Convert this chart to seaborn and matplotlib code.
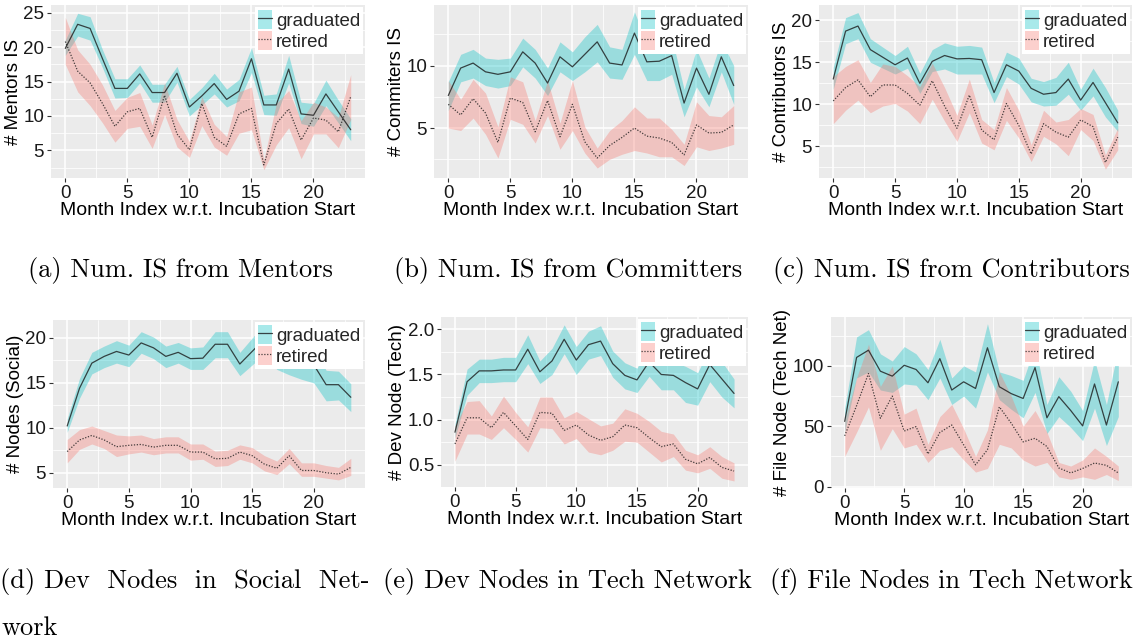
import numpy as np
import pandas as pd
import matplotlib
matplotlib.use("Agg")
import matplotlib.pyplot as plt
from matplotlib.patches import Patch
from matplotlib.lines import Line2D
from matplotlib.ticker import MultipleLocator, FormatStrFormatter
import seaborn as sns

# ---------------------------------------------------------------- data
months = list(range(24))

mentors_grad = [19.8, 23.3, 22.7, 18.3, 14.0, 14.0, 16.1, 13.4, 13.4, 16.2, 11.3, 12.9,
                14.7, 12.4, 13.6, 18.3, 11.6, 11.6, 16.8, 10.3, 10.1, 13.2, 10.6, 8.0]
mentors_grad_lo = [18.8, 21.6, 21.0, 17.0, 12.6, 12.7, 14.8, 12.0, 12.0, 14.9, 10.0, 11.6,
                   13.2, 11.3, 12.2, 16.3, 10.2, 10.1, 14.8, 8.9, 8.5, 11.5, 9.0, 6.4]
mentors_grad_hi = [21.0, 24.9, 24.4, 19.6, 15.4, 15.4, 17.4, 14.6, 14.6, 17.2, 12.4, 14.1,
                   16.2, 13.9, 15.3, 19.9, 13.0, 13.2, 18.8, 12.0, 11.8, 15.2, 12.3, 9.6]
mentors_ret = [20.8, 16.5, 14.8, 11.8, 8.5, 10.6, 11.1, 6.9, 13.0, 7.4, 5.1, 11.8,
               6.9, 5.6, 10.3, 11.1, 2.9, 8.9, 11.0, 6.5, 9.7, 9.4, 7.7, 12.8]
mentors_ret_lo = [17.5, 13.5, 11.5, 9.0, 6.2, 8.2, 8.5, 5.3, 10.2, 5.5, 4.0, 8.6,
                  5.5, 4.3, 7.5, 8.0, 2.2, 5.8, 8.3, 3.8, 7.4, 7.4, 5.4, 9.5]
mentors_ret_hi = [24.3, 19.6, 17.5, 14.5, 10.8, 12.7, 13.4, 8.7, 14.8, 9.5, 6.3, 12.8,
                  8.8, 7.0, 13.5, 14.2, 3.6, 11.8, 13.7, 9.3, 12.0, 11.3, 9.8, 16.0]

committers_grad = [7.6, 9.8, 10.2, 9.5, 9.3, 9.5, 11.1, 10.2, 8.6, 10.7, 9.9, 10.9,
                   11.9, 10.2, 10.05, 12.6, 10.3, 10.35, 10.8, 7.0, 9.8, 7.7, 10.7, 8.4]
committers_grad_lo = [6.4, 8.7, 9.0, 8.4, 8.2, 8.4, 9.9, 9.0, 7.6, 9.5, 8.8, 9.5,
                      10.3, 9.0, 8.9, 10.9, 8.8, 8.8, 9.3, 5.9, 8.3, 6.7, 9.5, 6.9]
committers_grad_hi = [8.7, 10.9, 11.3, 10.6, 10.5, 10.6, 12.2, 11.3, 9.8, 11.9, 11.1, 12.3,
                      13.3, 11.5, 11.3, 14.3, 11.8, 11.9, 12.3, 8.1, 11.3, 9.0, 12.0, 10.0]
committers_ret = [6.9, 6.05, 7.35, 6.2, 3.85, 7.4, 7.05, 4.7, 7.2, 4.3, 6.9, 3.9,
                  2.6, 3.6, 4.25, 5.0, 4.35, 4.2, 3.85, 2.85, 5.25, 4.6, 4.65, 5.25]
committers_ret_lo = [5.0, 4.8, 5.8, 4.5, 2.6, 5.7, 5.3, 3.8, 6.0, 3.3, 4.8, 3.0,
                     1.8, 2.5, 2.9, 3.2, 3.0, 2.7, 2.7, 2.0, 3.5, 3.2, 3.4, 3.7]
committers_ret_hi = [8.8, 7.3, 8.9, 7.8, 5.1, 9.1, 8.7, 5.6, 8.8, 5.4, 8.8, 5.1,
                     3.4, 4.8, 5.6, 6.7, 5.8, 5.8, 4.9, 3.7, 7.1, 6.0, 5.9, 6.8]

contrib_grad = [13.0, 18.7, 19.3, 16.5, 15.6, 14.7, 15.5, 12.5, 15.1, 15.8, 15.4, 15.45,
                15.3, 11.4, 14.7, 13.95, 11.9, 11.2, 11.4, 13.0, 10.5, 12.6, 10.2, 7.8]
contrib_grad_lo = [11.8, 17.2, 17.8, 15.0, 14.3, 13.6, 14.3, 11.3, 13.9, 14.2, 13.6, 13.6,
                   13.6, 10.2, 13.3, 12.4, 10.3, 9.8, 9.9, 11.2, 9.3, 11.0, 8.5, 6.8]
contrib_grad_hi = [14.4, 20.3, 20.9, 17.8, 16.8, 15.8, 16.9, 13.7, 16.5, 17.3, 16.9, 17.0,
                   16.8, 12.6, 16.2, 15.5, 13.1, 12.7, 13.2, 15.0, 11.8, 14.3, 12.0, 9.3]
contrib_ret = [10.4, 12.0, 12.9, 10.9, 12.3, 12.3, 11.3, 9.9, 12.8, 9.8, 7.15, 11.1,
               6.95, 5.8, 10.1, 7.5, 4.1, 7.7, 6.7, 6.1, 8.15, 7.35, 3.1, 6.1]
contrib_ret_lo = [7.7, 9.3, 10.5, 9.0, 9.8, 10.1, 9.2, 7.7, 10.6, 8.0, 5.6, 9.0,
                  5.4, 4.6, 8.1, 6.0, 3.2, 6.2, 5.3, 3.9, 7.0, 5.7, 2.3, 4.6]
contrib_ret_hi = [13.3, 14.5, 15.3, 12.6, 14.8, 14.5, 13.4, 12.1, 14.9, 12.0, 8.7, 13.0,
                  8.2, 7.0, 12.0, 9.3, 5.2, 9.3, 7.9, 8.2, 9.5, 8.8, 4.0, 7.2]

social_grad = [10.2, 14.4, 17.2, 17.95, 18.5, 18.1, 19.45, 18.9, 17.95, 18.4, 17.7, 17.75,
               19.3, 19.3, 17.1, 18.5, 19.9, 18.5, 18.0, 17.5, 17.0, 14.8, 14.8, 13.4]
social_grad_lo = [9.5, 13.3, 16.0, 16.7, 17.2, 16.8, 18.3, 17.7, 16.7, 17.2, 16.5, 16.5,
                  17.8, 17.8, 15.8, 17.0, 18.2, 16.5, 15.9, 15.4, 15.0, 13.0, 13.1, 11.8]
social_grad_hi = [11.0, 15.5, 18.4, 19.1, 19.7, 19.2, 20.7, 20.1, 19.1, 19.5, 18.9, 19.0,
                  20.7, 20.7, 18.4, 20.0, 21.6, 20.5, 20.0, 19.5, 19.0, 16.4, 16.3, 14.9]
social_ret = [7.35, 8.65, 9.15, 8.65, 7.9, 8.05, 8.15, 7.85, 8.05, 8.05, 7.3, 7.3,
              6.55, 6.6, 7.3, 6.9, 5.95, 5.5, 6.9, 5.25, 5.25, 5.0, 4.85, 5.6]
social_ret_lo = [6.1, 7.6, 8.2, 7.7, 6.8, 7.1, 7.3, 7.0, 7.2, 7.2, 6.4, 6.5,
                 5.7, 5.8, 6.5, 6.1, 5.2, 4.8, 6.0, 4.6, 4.6, 4.4, 4.2, 4.7]
social_ret_hi = [8.7, 9.8, 10.2, 9.7, 9.2, 9.1, 9.2, 8.8, 9.0, 9.0, 8.2, 8.2,
                 7.4, 7.5, 8.1, 7.8, 6.9, 6.3, 7.7, 6.1, 6.1, 5.8, 5.6, 6.6]

devtech_grad = [0.86, 1.42, 1.54, 1.54, 1.55, 1.55, 1.78, 1.53, 1.65, 1.89, 1.66, 1.83,
                1.87, 1.62, 1.49, 1.44, 1.64, 1.50, 1.49, 1.41, 1.34, 1.61, 1.45, 1.29]
devtech_grad_lo = [0.80, 1.27, 1.41, 1.41, 1.42, 1.42, 1.62, 1.40, 1.50, 1.73, 1.50, 1.67,
                   1.71, 1.47, 1.34, 1.30, 1.48, 1.33, 1.33, 1.19, 1.16, 1.42, 1.25, 1.13]
devtech_grad_hi = [0.95, 1.56, 1.67, 1.67, 1.69, 1.69, 1.94, 1.65, 1.79, 2.05, 1.81, 1.98,
                   2.04, 1.76, 1.63, 1.57, 1.81, 1.66, 1.64, 1.59, 1.52, 1.80, 1.64, 1.45]
devtech_ret = [0.73, 1.02, 1.02, 0.91, 1.08, 0.93, 0.78, 1.08, 1.07, 0.88, 0.94, 0.83,
               0.77, 0.81, 0.94, 0.91, 0.80, 0.70, 0.73, 0.56, 0.51, 0.58, 0.47, 0.43]
devtech_ret_lo = [0.54, 0.84, 0.84, 0.78, 0.91, 0.78, 0.64, 0.91, 0.90, 0.73, 0.79, 0.64,
                  0.61, 0.66, 0.76, 0.75, 0.64, 0.53, 0.59, 0.44, 0.41, 0.46, 0.35, 0.32]
devtech_ret_hi = [0.93, 1.20, 1.21, 1.04, 1.26, 1.08, 0.92, 1.25, 1.25, 1.02, 1.09, 1.01,
                  0.93, 0.96, 1.12, 1.07, 0.98, 0.87, 0.84, 0.66, 0.61, 0.70, 0.59, 0.52]

files_grad = [54, 107, 113, 95.6, 91.5, 100.5, 97, 86, 106, 80, 86.8, 81.3,
              115, 82.7, 77, 73, 98.6, 57, 74.5, 63, 50.3, 85, 51, 86.8]
files_grad_lo = [45, 90, 95, 80, 78, 85, 84, 72, 90, 68, 75, 65,
                 95, 72, 64, 57, 78, 44, 58, 49, 38, 65, 34, 58]
files_grad_hi = [65, 124, 130, 110, 104, 116, 110, 97, 122, 90, 100, 95,
                 135, 95, 92, 88, 117, 68, 91, 79, 63, 105, 68, 115]
files_ret = [42, 67, 93.7, 56.6, 75, 46, 49.7, 27, 44.8, 51, 34.6, 18,
             30.5, 66, 52.5, 37, 40, 33.2, 15.4, 11.3, 15, 19.5, 17.6, 11.3]
files_ret_lo = [25, 45, 66, 30, 48, 32, 35, 20, 30, 33, 22, 12,
                15, 35, 32, 22, 17, 20, 8, 6, 8, 6, 10, 5]
files_ret_hi = [55, 90, 118, 83, 100, 60, 65, 35, 58, 68, 48, 25,
                47, 95, 75, 50, 63, 45, 20, 17, 22, 32, 25, 17]

x_label = "Month Index w.r.t. Incubation Start"
group_names = ["graduated", "retired"]
y_labels = ["# Mentors IS", "# Commiters IS", "# Contributors IS",
            "# Nodes (Social)", "# Dev Node (Tech)", "# File Node (Tech Net)"]
captions = ["(a) Num. IS from Mentors", "(b) Num. IS from Committers",
            "(c) Num. IS from Contributors", "(d) Dev  Nodes  in  Social  Net-",
            "(e) Dev Nodes in Tech Network", "(f) File Nodes in Tech Network"]
caption_wrap = "work"

# ---------------------------------------------------------------- style
sns.set_theme(style="darkgrid", rc={
    "axes.facecolor": "#EBEBEB",
    "figure.facecolor": "white",
    "grid.color": "white",
    "axes.edgecolor": "none",
    "xtick.bottom": True,
    "ytick.left": True,
    "xtick.color": "#333333",
    "ytick.color": "#333333",
    "xtick.major.size": 3,
    "ytick.major.size": 3,
    "xtick.major.width": 0.8,
    "ytick.major.width": 0.8,
    "xtick.major.pad": 2,
    "ytick.major.pad": 2,
})
plt.rcParams["font.family"] = ["Liberation Sans", "DejaVu Sans"]

GRAD = "#00BFC4"
RET = "#F8766D"
LINE = "#1a1a1a"
BAND_ALPHA = 0.34

panels = [
    (mentors_grad, mentors_grad_lo, mentors_grad_hi, mentors_ret, mentors_ret_lo, mentors_ret_hi,
     (1.0, 26.1), 5, 2.5),
    (committers_grad, committers_grad_lo, committers_grad_hi, committers_ret, committers_ret_lo,
     committers_ret_hi, (1.0, 14.85), 5, 2.5),
    (contrib_grad, contrib_grad_lo, contrib_grad_hi, contrib_ret, contrib_ret_lo, contrib_ret_hi,
     (1.25, 21.8), 5, 2.5),
    (social_grad, social_grad_lo, social_grad_hi, social_ret, social_ret_lo, social_ret_hi,
     (3.3, 22.0), 5, 2.5),
    (devtech_grad, devtech_grad_lo, devtech_grad_hi, devtech_ret, devtech_ret_lo, devtech_ret_hi,
     (0.253, 2.137), 0.5, 0.25),
    (files_grad, files_grad_lo, files_grad_hi, files_ret, files_ret_lo, files_ret_hi,
     (-1.2, 140.5), 50, 25),
]

# plot-area boxes in pixels: left, top, right, bottom
boxes = [(51, 5, 365, 178), (434, 5, 748, 178), (819, 5, 1132, 178),
         (53, 320, 365, 488), (441, 317, 748, 487), (831, 317, 1132, 488)]

W, H = 1141, 643
fig = plt.figure(figsize=(W / 100, H / 100), dpi=100)

for i, (gm, gl, gh, rm, rl, rh, ylim, major, minor) in enumerate(panels):
    l, t, r, b = boxes[i]
    ax = fig.add_axes([l / W, 1 - b / H, (r - l) / W, (b - t) / H])
    df = pd.DataFrame({"month": months * 2,
                       "value": list(gm) + list(rm),
                       "group": [group_names[0]] * 24 + [group_names[1]] * 24})

    ax.fill_between(months, gl, gh, color=GRAD, alpha=BAND_ALPHA, lw=0, zorder=2)
    ax.fill_between(months, rl, rh, color=RET, alpha=BAND_ALPHA, lw=0, zorder=2)
    sns.lineplot(data=df, x="month", y="value", style="group",
                 style_order=group_names, dashes={"graduated": "", "retired": (1, 1.3)},
                 color=LINE, alpha=0.8, lw=0.9, ax=ax, legend=False, zorder=3)

    ax.set_xlim(-1.15, 24.15)
    ax.set_ylim(*ylim)
    ax.xaxis.set_major_locator(MultipleLocator(5))
    ax.xaxis.set_minor_locator(MultipleLocator(2.5))
    ax.yaxis.set_major_locator(MultipleLocator(major))
    ax.yaxis.set_minor_locator(MultipleLocator(minor))
    ax.grid(which="major", color="white", lw=1.1)
    ax.grid(which="minor", color="white", lw=0.55)
    ax.tick_params(which="minor", length=0)
    ax.tick_params(axis="both", which="major", labelsize=13.5, labelcolor="#1a1a1a")
    if i == 4:
        ax.yaxis.set_major_formatter(FormatStrFormatter("%.1f"))
    ax.set_xlabel(x_label, fontsize=14, labelpad=0, color="black")
    ax.set_ylabel(y_labels[i], fontsize=13.5, labelpad=1, color="black")
    for s in ax.spines.values():
        s.set_visible(False)

    handles = [(Patch(facecolor=GRAD, alpha=BAND_ALPHA, lw=0),
                Line2D([], [], color=LINE, lw=0.9, alpha=0.8)),
               (Patch(facecolor=RET, alpha=BAND_ALPHA, lw=0),
                Line2D([], [], color=LINE, lw=0.9, alpha=0.8, ls=(0, (1, 1.3))))]
    leg = ax.legend(handles, group_names, loc="upper right", fontsize=13.5,
                    frameon=True, fancybox=False, framealpha=1, facecolor="white",
                    edgecolor="none", borderpad=0.15, borderaxespad=0.1,
                    labelspacing=0.08, handlelength=0.75, handleheight=1.2,
                    handletextpad=0.2)
    leg.set_zorder(5)

# sub-figure captions
cap_kw = dict(fontsize=19, family="cmr10", color="black", va="baseline")
fig.text(180 / W, 1 - 277 / H, captions[0], ha="center", **cap_kw)
fig.text(568 / W, 1 - 277 / H, captions[1], ha="center", **cap_kw)
fig.text(951 / W, 1 - 277 / H, captions[2], ha="center", **cap_kw)
fig.text(0.5 / W, 1 - 588 / H, captions[3], ha="left", **cap_kw)
fig.text(567 / W, 1 - 588 / H, captions[4], ha="center", **cap_kw)
fig.text(951 / W, 1 - 588 / H, captions[5], ha="center", **cap_kw)
fig.text(1 / W, 1 - 635 / H, caption_wrap, ha="left", **cap_kw)

fig.savefig("out.png", dpi=100)
